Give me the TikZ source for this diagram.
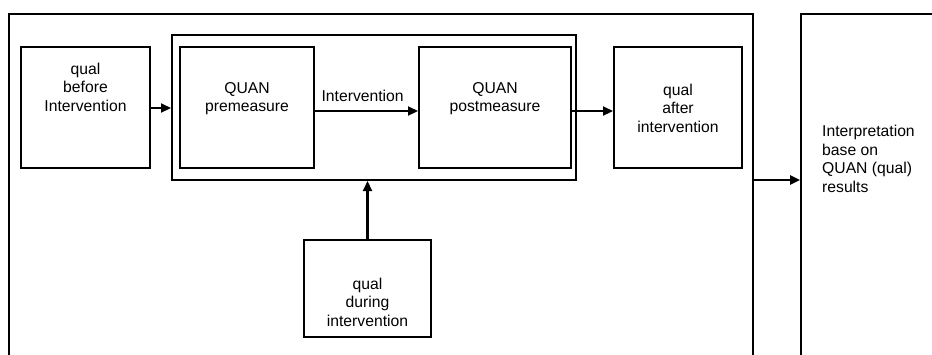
\documentclass[tikz,border=0pt]{standalone}
\usepackage{fontspec}
\setmainfont{Liberation Sans}
\usetikzlibrary{arrows.meta}
\begin{document}
\begin{tikzpicture}[x=1pt,y=-1pt,
  box/.style={draw, line width=2pt, inner sep=0pt, rectangle},
  frame/.style={draw, line width=1.7pt, inner sep=0pt, rectangle},
  txt/.style={inner sep=0pt, align=center, font=\fontsize{15.7}{18.5}\selectfont},
  arr/.style={line width=2.2pt, -{Triangle[length=10pt,width=9pt]}}]
\useasboundingbox[fill=white] (0,0) rectangle (932,354);
% outer frames, open at the bottom and right edge of the page
\node[frame, minimum width=744pt, minimum height=360pt] (outer) at (381,194) {};
\node[frame, minimum width=150pt, minimum height=360pt] (res) at (876,194) {};
% group around the quantitative measures
\node[box, minimum width=404pt, minimum height=145pt] (grp) at (374,107.5) {};
% boxes
\node[box, minimum width=129pt, minimum height=121pt] (before) at (85.5,107.5) {};
\node[box, minimum width=134pt, minimum height=121pt] (pre) at (247,107.5) {};
\node[box, minimum width=152pt, minimum height=121pt] (post) at (495,107.5) {};
\node[box, minimum width=128pt, minimum height=121pt] (after) at (678,107.5) {};
\node[box, minimum width=127pt, minimum height=97pt] (during) at (367.5,288.5) {};
% texts
\node[txt] (beforeT) at (85.5,87) {qual\\before\\Intervention};
\node[txt] (preT) at (247,98.5) {QUAN\\premeasure};
\node[txt] (postT) at (495,98.5) {QUAN\\postmeasure};
\node[txt] (afterT) at (678,108) {qual\\after\\intervention};
\node[txt] (duringT) at (367.5,302) {qual\\during\\intervention};
\node[txt, align=left, anchor=west] (resT) at (822,159) {Interpretation\\base on\\QUAN (qual)\\results};
% connectors
\draw[arr] (before.east |- 0,108) -- (grp.west |- 0,108);
\draw[arr] (pre.east |- 0,111) -- node[txt, above=8pt, anchor=south west, xshift=-46pt] (intT) {Intervention} (post.west |- 0,111);
\draw[arr] (post.east |- 0,111) -- (after.west |- 0,111);
\draw[arr] (during.north) -- (grp.south -| during.north);
\draw[arr] (outer.east |- 0,180) -- (res.west |- 0,180);
\end{tikzpicture}
\end{document}
